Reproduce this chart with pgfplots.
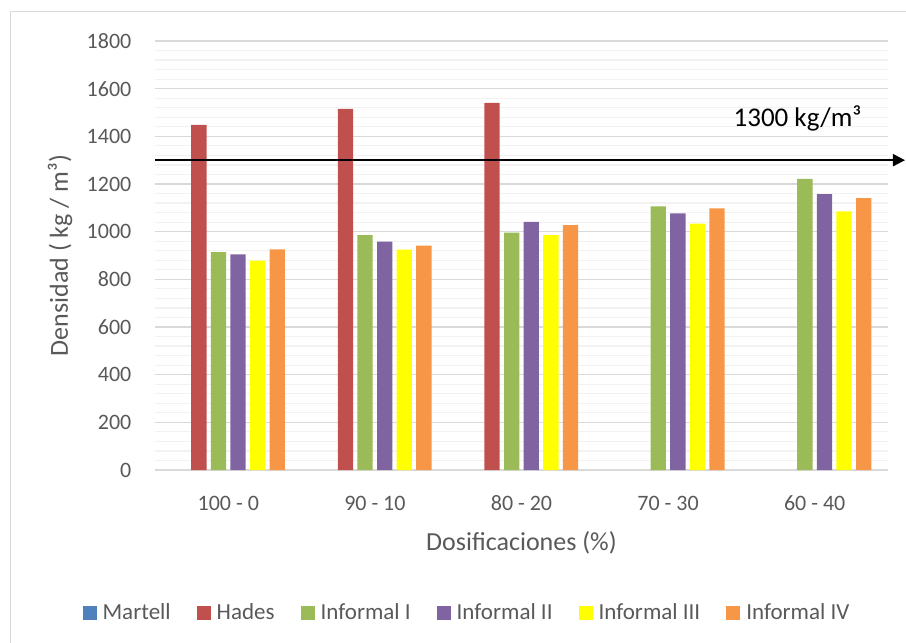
\documentclass[border=0pt]{standalone}
\usepackage{fontspec}
\setmainfont{Carlito}
\usepackage{pgfplots}
\pgfplotsset{compat=1.18}
\usepackage{pgfplotstable}
\usetikzlibrary{arrows.meta}

\definecolor{cMartell}{HTML}{4F81BD}
\definecolor{cHades}{HTML}{C0504D}
\definecolor{cInfI}{HTML}{9BBB59}
\definecolor{cInfII}{HTML}{8064A2}
\definecolor{cInfIII}{HTML}{FFFF00}
\definecolor{cInfIV}{HTML}{F79646}
\definecolor{txtgray}{RGB}{89,89,89}
\definecolor{majgrid}{RGB}{217,217,217}
\definecolor{mingrid}{RGB}{242,242,242}

% Densidad (kg/m3) por dosificacion
\pgfplotstableread{
idx Martell Hades InfI InfII InfIII InfIV
0   0       1448  914  905   878    926
1   0       1515  985  958   925    941
2   0       1540  996  1041  985    1027
3   0       nan   1106 1077  1034   1098
4   0       nan   1222 1158  1085   1141
}\densidad

\pgfplotsset{
  sq/.style={legend image code/.code={%
    \fill[##1, fill opacity=1] (0pt,-3.5pt) rectangle (7pt,3.5pt);
    \path (8pt,0pt);}},
}

\begin{document}
\begin{tikzpicture}
\useasboundingbox (0,0) rectangle (453pt,-321.5pt);
\draw[majgrid, line width=0.5pt] (5pt,-321.5pt) -- (5pt,-5.5pt) -- (453pt,-5.5pt);
\begin{axis}[
  at={(77.5pt,-235pt)}, anchor=south west,
  scale only axis, width=366.5pt, height=214.5pt,
  ybar, bar width=7.65pt,
  xmin=-0.5, xmax=4.5, ymin=0, ymax=1800,
  xtick={0,...,4},
  xticklabels={100 - 0, 90 - 10, 80 - 20, 70 - 30, 60 - 40},
  ytick={0,200,...,1800}, minor y tick num=4,
  ymajorgrids, yminorgrids,
  major grid style={majgrid, line width=0.6pt},
  minor grid style={mingrid, line width=0.6pt},
  axis lines*=left, axis line style={draw=none},
  major tick length=0pt, minor tick length=0pt,
  tick label style={font=\fontsize{11}{13}\selectfont, text=txtgray},
  /pgf/number format/assume math mode=true,
  /pgf/number format/1000 sep={},
  yticklabel style={xshift=-8.3pt},
  xticklabel style={anchor=center, yshift=-16.5pt},
  xlabel={Dosificaciones (\%)},
  xlabel style={at={(axis description cs:0.5,-0.170)}, anchor=center,
    font=\fontsize{13}{15}\selectfont, text=txtgray},
  ylabel={Densidad ( kg / m³)},
  ylabel style={at={(axis description cs:-0.1296,0.5)}, anchor=center,
    font=\fontsize{13}{15}\selectfont, text=txtgray},
  legend columns=6,
  legend style={at={(axis description cs:0.427,-0.3333)}, anchor=center,
    draw=none, fill=none, font=\fontsize{11.5}{13}\selectfont, text=txtgray,
    /tikz/every even column/.append style={column sep=11pt}},
  clip=false,
]
\addplot[sq, fill=cMartell, fill opacity=0, draw=none, bar shift=-24.5pt] table[x=idx, y=Martell] {\densidad};
\addplot[sq, fill=cHades,   draw=none, bar shift=-14.7pt] table[x=idx, y=Hades]   {\densidad};
\addplot[sq, fill=cInfI,    draw=none, bar shift=-4.9pt]  table[x=idx, y=InfI]    {\densidad};
\addplot[sq, fill=cInfII,   draw=none, bar shift=4.9pt]   table[x=idx, y=InfII]   {\densidad};
\addplot[sq, fill=cInfIII,  draw=none, bar shift=14.7pt]  table[x=idx, y=InfIII]  {\densidad};
\addplot[sq, fill=cInfIV,   draw=none, bar shift=24.5pt]  table[x=idx, y=InfIV]   {\densidad};
\legend{Martell, Hades, Informal I, Informal II, Informal III, Informal IV}

% Densidad limite
\addplot[sharp plot, forget plot, draw=black, fill=none, line width=1pt,
  -{Triangle[length=6pt,width=6pt]}] coordinates {(-0.5,1300) (4.616,1300)};
\node[font=\fontsize{13.5}{16}\selectfont, text=black] at (axis cs:3.883,1477) {1300 kg/m³};
\end{axis}
\end{tikzpicture}
\end{document}
